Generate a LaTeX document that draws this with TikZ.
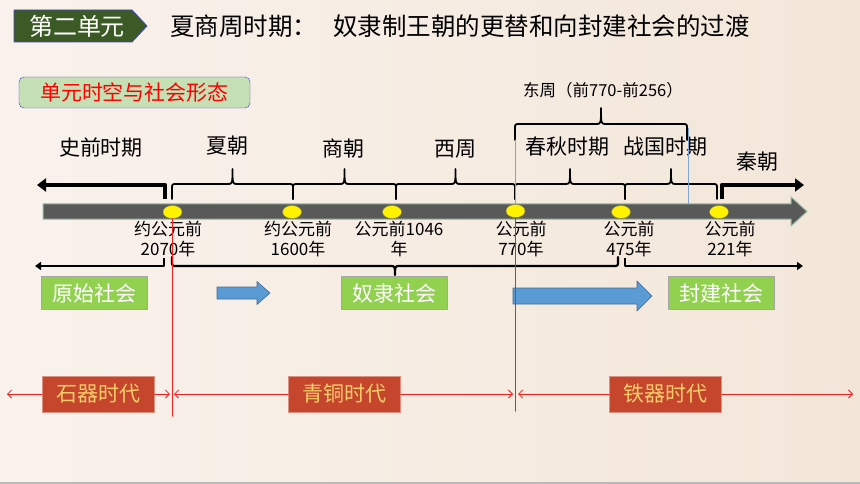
\documentclass[tikz,border=0pt]{standalone}
\usepackage{fontspec}
\newfontfamily\cjk{Noto Sans CJK SC}
\usetikzlibrary{shapes.geometric,arrows.meta}
\definecolor{bgL}{HTML}{F9F2EC}
\definecolor{bgR}{HTML}{F3E6D9}
\definecolor{tagGreen}{HTML}{3B5A26}
\definecolor{lblGreen}{HTML}{C5E0B4}
\definecolor{socGreen}{HTML}{92D050}
\definecolor{ageRed}{HTML}{C5462C}
\definecolor{ageGold}{HTML}{F6CF6A}
\definecolor{barGray}{HTML}{595959}
\definecolor{barEdge}{HTML}{8FB8A0}
\definecolor{arrBlue}{HTML}{5B9BD5}
\definecolor{thinBlue}{HTML}{7EA6CF}
\definecolor{lineRed}{HTML}{F02020}
% brace pointing up: x1, x2, bottom, line, peak
\newcommand{\upbrace}[5]{%
  \draw[brace] (#1,#3) -- (#1,#4+5) .. controls (#1,#4) .. (#1+5,#4)
    -- ({(#1+#2)/2-5},#4) .. controls ({(#1+#2)/2},#4) .. ({(#1+#2)/2},#5)
    .. controls ({(#1+#2)/2},#4) .. ({(#1+#2)/2+5},#4)
    -- (#2-5,#4) .. controls (#2,#4) .. (#2,#4+5) -- (#2,#3);}
\begin{document}
\begin{tikzpicture}[x=1pt,y=-1pt,>=Stealth, font=\cjk, line join=round, line cap=round,
  era/.style={font=\cjk\fontsize{21}{21}\selectfont, inner sep=0},
  date/.style={font=\cjk\fontsize{17}{20}\selectfont, align=center, inner sep=0},
  soc/.style={draw=gray!70, fill=socGreen, text=white, font=\cjk\fontsize{21}{21}\selectfont,
    minimum width=106pt, minimum height=33pt, inner sep=0},
  age/.style={draw=ageRed!60, fill=ageRed, text=ageGold, font=\cjk\fontsize{21}{21}\selectfont,
    minimum width=112pt, minimum height=36pt, inner sep=0},
  dot/.style={ellipse, fill=yellow, draw=yellow!50!black, line width=0.4pt,
    minimum width=19pt, minimum height=13pt, inner sep=0},
  brace/.style={line width=1.8pt},
  bigarr/.style={line width=4.5pt, line cap=butt, -{Triangle[length=9pt,width=13pt]}},
  lowarr/.style={line width=2.5pt, line cap=butt, -{Triangle[length=6pt,width=8pt]}},
  redarr/.style={lineRed, line width=0.8pt, -{Straight Barb[length=4pt,width=8pt]}},
  vline/.style={draw=lineRed, line width=1.2pt},
  bline/.style={thinBlue, line width=0.8pt},
  flow/.style={fill=arrBlue, draw=arrBlue!70!black, line width=0.6pt}]
\useasboundingbox (0,0) rectangle (860,484);
\shade[left color=bgL, right color=bgR] (0,0) rectangle (860,484);
\fill[gray!55] (0,482) rectangle (860,484);

% title
\draw[fill=tagGreen, draw=blue!45!gray, line width=0.8pt] (14,10) -- (132,10) -- (147,26) -- (132,42) -- (14,42) -- cycle;
\node[text=white, font=\cjk\fontsize{24}{24}\selectfont] (tag) at (77,26) {第二单元};
\node[anchor=west, inner sep=0, font=\cjk\fontsize{24.5}{25}\selectfont] (title) at (170,26)
  {夏商周时期：\hspace{16pt}奴隶制王朝的更替和向封建社会的过渡};
\node[draw=blue!50!gray, fill=lblGreen, rounded corners=5pt, minimum width=231pt, minimum height=31pt,
  inner sep=0, text=red, font=\cjk\fontsize{21}{21}\selectfont] (unit) at (134.5,92.5) {单元时空与社会形态};

% periods
\node[era] (pre) at (101,148) {史前时期};
\node[era] (xia) at (227,146) {夏朝};
\node[era] (shang) at (343,148) {商朝};
\node[era] (xizhou) at (455,149) {西周};
\node[era] (chunqiu) at (567,147) {春秋时期};
\node[era] (zhanguo) at (665,147) {战国时期};
\node[era] (qin) at (757,162) {秦朝};
\node[font=\cjk\fontsize{16.5}{17}\selectfont, inner sep=0] (dongzhou) at (603,90) {东周（前770-前256）};

% time line
\draw[fill=barGray, draw=barEdge, line width=1pt] (43,204) -- (791,204) -- (791,197) -- (807,211.5)
  -- (791,226) -- (791,219) -- (43,219) -- cycle;

\coordinate (l1) at (165,199); \coordinate (l2) at (165,185); \coordinate (l3) at (37,185);
\coordinate (r1) at (722,199); \coordinate (r2) at (722,185); \coordinate (r3) at (804,185);
\draw[bigarr] (l1) -- (l2) -- (l3);
\draw[bigarr] (r1) -- (r2) -- (r3);

\upbrace{172}{293}{199}{184}{169}
\upbrace{293}{396}{199}{184}{169}
\upbrace{396}{515}{199}{184}{169}
\upbrace{515}{625}{199}{184}{169}
\upbrace{625}{717}{199}{184}{169}
\upbrace{515}{687}{140}{124}{108}

\node[dot] (d1) at (172.5,212) {};
\node[dot] (d2) at (292,212) {};
\node[dot] (d3) at (392,212) {};
\node[dot] (d4) at (515.5,211) {};
\node[dot] (d5) at (621,212) {};
\node[dot] (d6) at (719,212) {};

\coordinate (b1) at (515.5,140);
\coordinate (b2) at (688,128); \coordinate (b3) at (688,204);
\draw[bline] (d4.north) -- (b1);
\draw[bline] (b2) -- (b3);

\node[date] (t1) at (168,239) {约公元前\\2070年};
\node[date] (t2) at (298,239) {约公元前\\1600年};
\node[date] (t3) at (399,239) {公元前1046\\年};
\node[date] (t4) at (521,239) {公元前\\770年};
\node[date] (t5) at (629,239) {公元前\\475年};
\node[date] (t6) at (730,239) {公元前\\221年};

% societies
\coordinate (p1) at (164,258); \coordinate (p2) at (164,266); \coordinate (p3) at (35,266);
\coordinate (f1) at (625,258); \coordinate (f2) at (625,266); \coordinate (f3) at (803,266);
\draw[lowarr] (p1) -- (p2) -- (p3);
\draw[lowarr] (f1) -- (f2) -- (f3);
\draw[line width=2.2pt] (172,257) -- (172,261) .. controls (172,266) .. (177,266) -- (390,266)
  .. controls (395,266) .. (395,275) .. controls (395,266) .. (400,266) -- (613,266)
  .. controls (618,266) .. (618,261) -- (618,257);

\node[soc] (yuanshi) at (94.5,293) {原始社会};
\node[soc] (nuli) at (394.5,293) {奴隶社会};
\node[soc] (fengjian) at (721.5,293) {封建社会};
\draw[flow] (217,287) -- (257,287) -- (257,281.5) -- (270,293) -- (257,304.5) -- (257,299) -- (217,299) -- cycle;
\draw[flow] (513,288) -- (637,288) -- (637,281) -- (652,296) -- (637,311) -- (637,304) -- (513,304) -- cycle;

% ages
\coordinate (v1) at (172.5,416);
\coordinate (v2) at (515.5,411);
\coordinate (v0) at (515.5,218);
\draw[vline] (d1.south) -- (v1);
\draw[vline] (v0) -- (v2);

\node[age] (stone) at (98.5,394) {石器时代};
\node[age] (bronze) at (344.5,394) {青铜时代};
\node[age] (iron) at (665.5,394) {铁器时代};
\coordinate (a1) at (7,394); \coordinate (a2) at (170,394);
\coordinate (a3) at (174,394); \coordinate (a4) at (513,394);
\coordinate (a5) at (518,394); \coordinate (a6) at (853,394);
\draw[redarr] (stone) -- (a1);
\draw[redarr] (stone) -- (a2);
\draw[redarr] (bronze) -- (a3);
\draw[redarr] (bronze) -- (a4);
\draw[redarr] (iron) -- (a5);
\draw[redarr] (iron) -- (a6);
\end{tikzpicture}
\end{document}
